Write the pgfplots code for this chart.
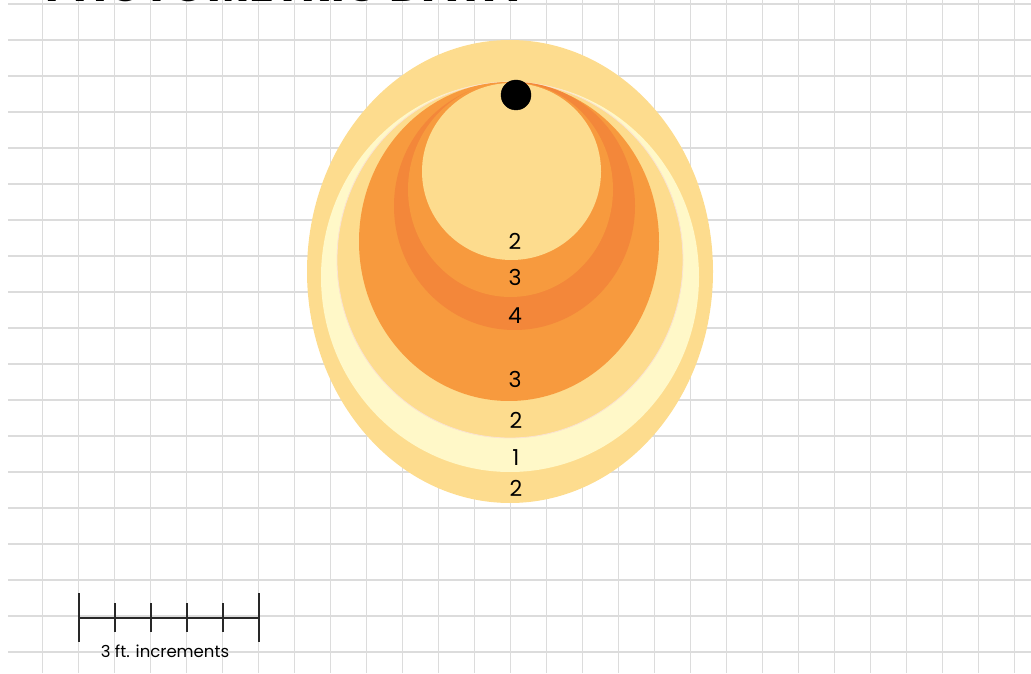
\documentclass[border=0pt]{standalone}
\usepackage{pgfplots}
\pgfplotsset{compat=1.18}
\usepackage{fontspec}
\setmainfont{Poppins}
\newfontfamily\poppins{Poppins}
\definecolor{gridc}{RGB}{220,220,220}
\definecolor{lyel}{RGB}{253,220,142}
\definecolor{cream}{RGB}{255,248,200}
\definecolor{orng}{RGB}{247,154,62}
\definecolor{dorng}{RGB}{243,135,58}
\definecolor{pinkedge}{RGB}{250,226,210}
\definecolor{barc}{RGB}{40,40,40}
\begin{document}
\begin{tikzpicture}
\useasboundingbox (0,0) rectangle (1031pt,673pt);
\begin{axis}[at={(0,0)}, anchor=south west, width=1031pt, height=673pt, scale only axis,
  xmin=0, xmax=1031, ymin=0, ymax=673, hide axis, clip=false]
% vertical grid lines
\pgfplotsinvokeforeach{42.5,78.5,114.5,150.5,186.5,222.5,258.5,294.5,330.5,366.5,402.5,438.5,474.5,510.5,546.5,582.5,618.5,654.5,690.5,726.5,762.5,798.5,834.5,870.5,906.5,942.5,978.5,1014.5}{
  \addplot[gridc, line width=1.4pt, forget plot] coordinates {(#1,0) (#1,673)};
}
% horizontal grid lines
\pgfplotsinvokeforeach{669,633,597,561,525,489,453,417,381,345,309,273,237,201,165,129,93,57,21}{
  \addplot[gridc, line width=1.6pt, forget plot] coordinates {(8,#1) (1031,#1)};
}
% isofootcandle zones
\fill[lyel] (axis cs:510,401.5) ellipse [x radius=203, y radius=231.5];
\fill[cream] (axis cs:510,396) ellipse [x radius=189, y radius=195];
\filldraw[fill=lyel, draw=pinkedge, line width=0.8pt] (axis cs:510,413) ellipse [x radius=173, y radius=178];
\fill[orng] (axis cs:509,431.5) ellipse [x radius=150, y radius=159.5];
\fill[dorng] (axis cs:514.5,467) ellipse [x radius=120.5, y radius=124];
\fill[orng] (axis cs:510.5,483.5) ellipse [x radius=102.5, y radius=107.5];
\fill[lyel] (axis cs:511.5,501.5) ellipse [x radius=89.5, y radius=88.5];
% fixture position
\addplot[only marks, mark=*, mark size=15pt, black] coordinates {(516,578)};
% zone labels
\begin{scope}[every node/.style={font=\poppins\fontsize{22}{22}\selectfont, text=black, anchor=center}]
\node at (axis cs:515,432) {2};
\node at (axis cs:515,396) {3};
\node at (axis cs:515,357) {4};
\node at (axis cs:515,294) {3};
\node at (axis cs:516,253) {2};
\node at (axis cs:516,215) {1};
\node at (axis cs:516,185) {2};
\end{scope}
% scale bar
\addplot[barc, line width=1.4pt] coordinates {(79,55) (259,55)};
\addplot[barc, line width=1.4pt] coordinates {(79,80) (79,31)};
\addplot[barc, line width=1.4pt] coordinates {(259,80) (259,31)};
\pgfplotsinvokeforeach{115,151,187,223}{
  \addplot[barc, line width=1.4pt] coordinates {(#1,70) (#1,41)};
}
\node[font=\poppins\fontsize{16.5}{16.5}\selectfont, anchor=center] at (axis cs:165,22) {3 ft. increments};
% title (cut off by the top edge, as in the reference)
\node[font=\poppins\fontsize{46}{46}\selectfont\bfseries, anchor=base west, inner sep=0pt] at (axis cs:45,671) {PHOTOMETRIC DATA};
\end{axis}
\end{tikzpicture}
\end{document}
